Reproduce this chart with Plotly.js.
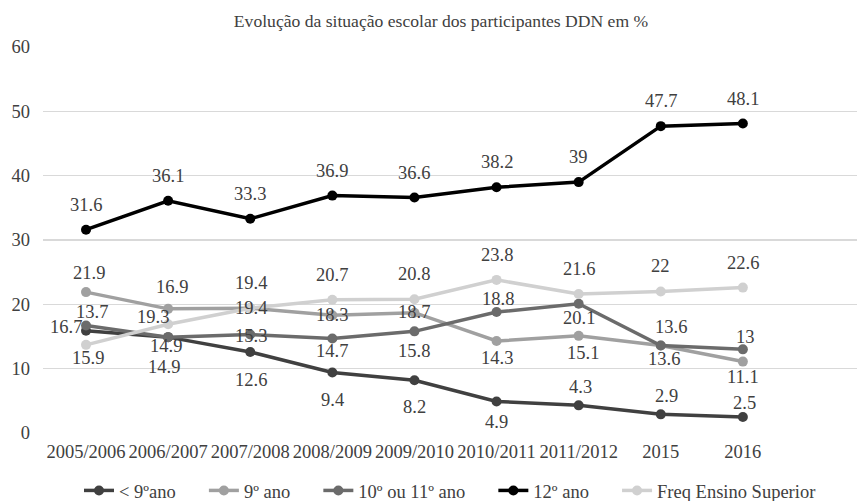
<!DOCTYPE html>
<html>
<head>
<meta charset="utf-8">
<script src="https://cdn.plot.ly/plotly-3.0.1.min.js"></script>
<style>
  html, body { margin: 0; padding: 0; background: #ffffff; }
  #chart { width: 857px; height: 501px; }
</style>
</head>
<body>
<div id="chart"></div>
<script>
// School years on the category axis
const categories = ['2005/2006', '2006/2007', '2007/2008', '2008/2009', '2009/2010',
                    '2010/2011', '2011/2012', '2015', '2016'];

// Share of DDN participants (%) by school level
const below9 = [15.9, 14.9, 12.6, 9.4, 8.2, 4.9, 4.3, 2.9, 2.5];
const grade9 = [21.9, 19.3, 19.4, 18.3, 18.7, 14.3, 15.1, 13.6, 11.1];
const grade10or11 = [16.7, 14.9, 15.3, 14.7, 15.8, 18.8, 20.1, 13.6, 13];
const grade12 = [31.6, 36.1, 33.3, 36.9, 36.6, 38.2, 39, 47.7, 48.1];
const higherEd = [13.7, 16.9, 19.4, 20.7, 20.8, 23.8, 21.6, 22, 22.6];

const seriesNames = ['< 9ºano', '9º ano', '10º ou 11º ano', '12º ano', 'Freq Ensino Superior'];

// Label placement: pixel offset [dx, dy] of each value label from its point (dy > 0 is downward)
const ABOVE = [0, -25];
const labelOffsets = [
  [[2, 27], [-4, 30], [1, 28], [0, 27], [0, 27], [0, 21], [2, -18], [6, -18], [2, -14]],
  [[3, -19], [-15, 8], [1, 0], [0, 0], [0, -1], [0, 17], [4, 17], [3, 13], [0, 15]],
  [[-20, 1], [-2, 9], [1, 1], [0, 13], [0, 20], [1, -13], [0, 14], [10, -19], [3, -12]],
  categories.map(() => ABOVE),
  [[6, -33], [4, -37], [1, -25], [0, -25], [0, -25], [0, -25], [0, -25], [0, -25], [0, -25]]
];

const seriesValues = [below9, grade9, grade10or11, grade12, higherEd];
const seriesColors = ['#404040', '#a0a0a0', '#6b6b6b', '#000000', '#d0d0d0'];

const FONT = '"Liberation Serif", "Times New Roman", serif';
const TEXT_COLOR = '#404040';
// Non-breaking spaces widen the gap between horizontal legend entries
const LEGEND_PAD = '\u00a0'.repeat(5);

const traces = seriesValues.map((vals, i) => ({
  type: 'scatter',
  mode: 'lines+markers',
  name: seriesNames[i] + (i < seriesNames.length - 1 ? LEGEND_PAD : ''),
  x: categories,
  y: vals,
  line: { color: seriesColors[i], width: 3.5 },
  marker: { color: seriesColors[i], size: 10 },
  hoverinfo: 'x+y+name'
}));

// Value labels; x is the category index so year-like names stay categories
const annotations = [];
seriesValues.forEach((vals, i) => {
  vals.forEach((v, j) => {
    const [dx, dy] = labelOffsets[i][j];
    annotations.push({
      x: j,
      y: v,
      xref: 'x',
      yref: 'y',
      text: String(v),
      showarrow: false,
      xanchor: 'center',
      yanchor: 'middle',
      xshift: dx,
      yshift: -dy,
      font: { family: FONT, size: 18.5, color: TEXT_COLOR }
    });
  });
});

const layout = {
  width: 857,
  height: 501,
  margin: { l: 43, r: 0, t: 47, b: 68, autoexpand: false },
  paper_bgcolor: '#ffffff',
  plot_bgcolor: '#ffffff',
  font: { family: FONT, size: 18.5, color: TEXT_COLOR },
  title: {
    text: 'Evolução da situação escolar dos participantes DDN em %',
    font: { family: FONT, size: 17.6, color: TEXT_COLOR },
    xref: 'container',
    x: 0.5146,
    xanchor: 'center',
    yref: 'container',
    y: 0.958,
    yanchor: 'middle'
  },
  xaxis: {
    type: 'category',
    range: [-0.524, 9.39],
    showgrid: false,
    zeroline: false,
    showline: false,
    ticks: '',
    tickangle: 0,
    automargin: false,
    ticklabelstandoff: 5,
    tickfont: { family: FONT, size: 18.5, color: TEXT_COLOR }
  },
  yaxis: {
    range: [0, 60],
    dtick: 10,
    showgrid: true,
    gridcolor: '#d9d9d9',
    gridwidth: 1.3,
    zeroline: false,
    showline: false,
    ticks: '',
    automargin: false,
    ticklabelstandoff: 12,
    tickfont: { family: FONT, size: 18.5, color: TEXT_COLOR }
  },
  showlegend: true,
  legend: {
    orientation: 'h',
    x: 0.5,
    xanchor: 'center',
    y: -0.150,
    yanchor: 'middle',
    font: { family: FONT, size: 18.5, color: TEXT_COLOR },
    bgcolor: 'rgba(0,0,0,0)'
  },
  annotations: annotations
};

Plotly.newPlot('chart', traces, layout, { staticPlot: true, displayModeBar: false });
</script>
</body>
</html>
